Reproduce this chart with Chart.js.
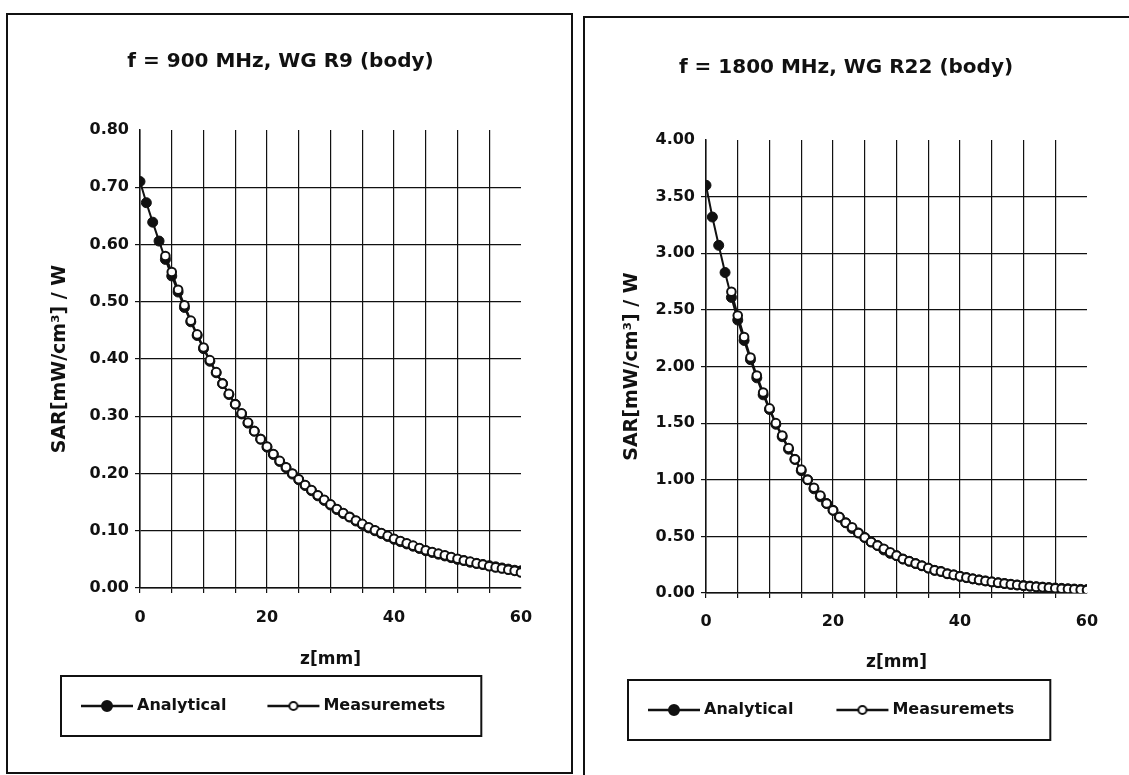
<!DOCTYPE html>
<html>
<head>
<meta charset="utf-8">
<script src="https://cdn.jsdelivr.net/npm/chart.js@4.4.1/dist/chart.umd.min.js"></script>
<style>
  html, body { margin:0; padding:0; background:#fff; width:1129px; height:775px; overflow:hidden; }
  .frame { position:absolute; border:2px solid #111; box-sizing:border-box; }
  canvas { position:absolute; top:0; }
</style>
</head>
<body>
<div class="frame" style="left:6px;top:13px;width:567px;height:761px;"></div>
<div class="frame" style="left:583px;top:16px;width:600px;height:800px;"></div>
<canvas id="c900" style="left:0px" width="575" height="775"></canvas>
<canvas id="c1800" style="left:575px" width="554" height="775"></canvas>
<script>
// depth below the phantom surface, mm
const zMm = [0,1,2,3,4,5,6,7,8,9,10,11,12,13,14,15,16,17,18,19,20,
  21,22,23,24,25,26,27,28,29,30,31,32,33,34,35,36,37,38,39,40,
  41,42,43,44,45,46,47,48,49,50,51,52,53,54,55,56,57,58,59,60];
const xTickLabels = [0, 20, 40, 60];

// f = 900 MHz, WG R9
const sar900Analytical = [0.710,0.673,0.639,0.606,0.574,0.545,0.517,0.490,0.465,0.441,
  0.418,0.396,0.376,0.357,0.338,0.321,0.304,0.288,0.274,0.260,
  0.246,0.233,0.221,0.210,0.199,0.189,0.179,0.170,0.161,0.153,
  0.145,0.137,0.130,0.124,0.117,0.111,0.105,0.100,0.095,0.090,
  0.085,0.081,0.077,0.073,0.069,0.065,0.062,0.059,0.056,0.053,
  0.050,0.048,0.045,0.043,0.041,0.039,0.037,0.035,0.033,0.031,0.030];
const sar900Measured = [null,null,null,null,0.580,0.552,0.521,0.494,0.467,0.443,
  0.420,0.398,0.377,0.357,0.339,0.321,0.305,0.289,0.274,0.260,
  0.247,0.234,0.222,0.211,0.200,0.190,0.180,0.171,0.162,0.154,
  0.146,0.138,0.131,0.124,0.118,0.112,0.106,0.101,0.096,0.091,
  0.086,0.082,0.078,0.074,0.070,0.066,0.063,0.060,0.057,0.054,
  0.051,0.048,0.046,0.043,0.041,0.038,0.036,0.034,0.032,0.030,0.027];

// f = 1800 MHz, WG R22
const sar1800Analytical = [3.60,3.32,3.07,2.83,2.61,2.41,2.23,2.06,1.90,1.75,
  1.62,1.49,1.38,1.27,1.18,1.08,1.00,0.92,0.85,0.79,
  0.73,0.67,0.62,0.57,0.53,0.49,0.45,0.42,0.38,0.35,
  0.33,0.30,0.28,0.26,0.24,0.22,0.20,0.19,0.17,0.16,
  0.147,0.136,0.125,0.116,0.107,0.098,0.091,0.084,0.077,0.071,
  0.066,0.061,0.056,0.052,0.048,0.044,0.041,0.038,0.035,0.032,0.030];
const sar1800Measured = [null,null,null,null,2.66,2.45,2.26,2.08,1.92,1.77,
  1.63,1.50,1.39,1.28,1.18,1.09,1.00,0.93,0.86,0.79,
  0.73,0.67,0.62,0.58,0.53,0.49,0.45,0.42,0.39,0.36,
  0.33,0.30,0.28,0.26,0.24,0.22,0.20,0.19,0.17,0.16,
  0.147,0.136,0.125,0.115,0.106,0.098,0.090,0.083,0.076,0.070,
  0.064,0.059,0.054,0.050,0.046,0.042,0.038,0.035,0.032,0.029,0.027];

const FONT = "'DejaVu Sans', 'Liberation Sans', Arial, sans-serif";
const INK = '#111';

// little line+marker pictures for the legend
function legendIcon(filled){
  const c = document.createElement('canvas');
  c.width = 56; c.height = 14;
  const g = c.getContext('2d');
  g.strokeStyle = INK; g.lineWidth = 2.5;
  g.beginPath(); g.moveTo(2,7); g.lineTo(54,7); g.stroke();
  g.beginPath(); g.arc(28,7,filled?5:4,0,Math.PI*2);
  g.fillStyle = filled ? INK : '#fff'; g.fill();
  g.lineWidth = 2; g.stroke();
  return c;
}
const icons = [legendIcon(true), legendIcon(false)];

// frame around the legend entries
const legendFrame = {
  id:'legendFrame',
  afterDraw(chart){
    const hb = chart.legend && chart.legend.legendHitBoxes;
    if(!hb || !hb.length) return;
    const last = hb[hb.length-1];
    const x0 = hb[0].left - 24, x1 = last.left + last.width + 36;
    const cy = hb[0].top + hb[0].height/2;
    const ctx = chart.ctx;
    ctx.save();
    ctx.strokeStyle = INK; ctx.lineWidth = 2;
    ctx.strokeRect(x0, cy-30, x1-x0, 60);
    ctx.restore();
  }
};

function makeChart(id, title, analytical, measured, yMax, yStep, g){
  const ctx = document.getElementById(id).getContext('2d');
  return new Chart(ctx, {
    type:'line',
    data:{
      labels: zMm,
      datasets:[
        {label:'Analytical', data:analytical, order:1, borderColor:INK, borderWidth:2,
         pointRadius:5, pointBackgroundColor:INK, pointBorderColor:INK, pointBorderWidth:1},
        {label:'Measuremets', data:measured, order:0, borderColor:INK, borderWidth:2,
         pointRadius:4.3, pointBackgroundColor:'#fff', pointBorderColor:INK, pointBorderWidth:2}
      ]
    },
    options:{
      responsive:false, animation:false,
      layout:{padding:{left:g.padL, right:g.padR, top:0, bottom:g.padB}},
      plugins:{
        tooltip:{enabled:false},
        title:{display:true, text:title, color:INK,
          font:{family:FONT, size:20, weight:'bold'},
          padding:{top:g.titleTop, bottom:g.titleBottom}},
        legend:{
          position:'bottom', align:'start',
          labels:{
            color:INK, usePointStyle:true, pointStyleWidth:44, padding:g.legPad,
            font:{family:FONT, size:16, weight:'bold'},
            sort:(a,b)=>a.datasetIndex-b.datasetIndex,
            generateLabels(chart){
              const items = Chart.defaults.plugins.legend.labels.generateLabels(chart);
              items.forEach(it=>{ it.pointStyle = icons[it.datasetIndex]; it.rotation = 0; });
              return items;
            }
          }
        }
      },
      scales:{
        x:{
          type:'linear', min:0, max:60,
          border:{color:INK, width:1.5},
          grid:{lineWidth:1.2, tickLength:5,
            color:c=> c.tick && c.tick.value === 60 ? 'rgba(0,0,0,0)' : INK},
          ticks:{stepSize:5, padding:g.xTickPad, color:INK, maxRotation:0, autoSkip:false,
            font:{family:FONT, size:16, weight:'bold'},
            callback:v=> xTickLabels.includes(v) ? String(v) : ''},
          title:{display:true, text:'z[mm]', color:INK,
            font:{family:FONT, size:17, weight:'bold'},
            padding:{top:g.xTitleTop, bottom:g.xTitleBottom}}
        },
        y:{
          min:0, max:yMax,
          afterFit:s=>{ s.width = g.yWidth; },
          border:{color:INK, width:1.5},
          grid:{lineWidth:1.2, tickLength:5,
            color:c=> c.tick && Math.abs(c.tick.value - yMax) < 1e-9 ? 'rgba(0,0,0,0)' : INK},
          ticks:{stepSize:yStep, padding:6, color:INK,
            font:{family:FONT, size:16, weight:'bold'},
            callback:v=> v.toFixed(2)},
          title:{display:true, text:'SAR[mW/cm³] / W', color:INK,
            font:{family:FONT, size:19, weight:'bold'},
            padding:{top:g.yTitleTop, bottom:0}}
        }
      }
    },
    plugins:[legendFrame]
  });
}

makeChart('c900', 'f = 900 MHz, WG R9 (body)', sar900Analytical, sar900Measured, 0.8, 0.1,
  {padL:40, padR:54, padB:51, yWidth:100, yTitleTop:8.6, titleTop:50, titleBottom:56,
   xTickPad:15, xTitleTop:7.6, xTitleBottom:-17.2, legPad:45});
makeChart('c1800', 'f = 1800 MHz, WG R22 (body)', sar1800Analytical, sar1800Measured, 4, 0.5,
  {padL:30, padR:42, padB:47, yWidth:101, yTitleTop:15.6, titleTop:56, titleBottom:60,
   xTickPad:14.4, xTitleTop:6.8, xTitleBottom:-18.2, legPad:47});
</script>
</body>
</html>
